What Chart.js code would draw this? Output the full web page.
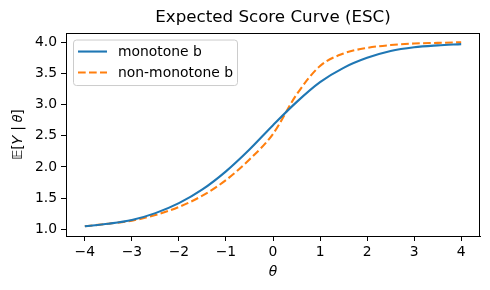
<!DOCTYPE html>
<html>
<head>
<meta charset="utf-8">
<script src="https://cdn.jsdelivr.net/npm/chart.js@4"></script>
<style>
  html, body { margin: 0; padding: 0; background: #fff; }
  #wrap { width: 490px; height: 290px; }
</style>
</head>
<body>
<div id="wrap"><canvas id="esc" width="490" height="290"></canvas></div>
<script>
// theta grid and the two expected-score curves
const thetas = [-4, -3.5, -3, -2.5, -2, -1.5, -1, -0.5, 0, 0.5, 1, 1.5, 2, 2.5, 3, 3.5, 4];
const monotoneB = [1.05, 1.09, 1.15, 1.26, 1.42, 1.64, 1.93, 2.28, 2.67, 3.04, 3.36, 3.59, 3.75, 3.86, 3.92, 3.95, 3.97];
const nonMonotoneB = [1.05, 1.09, 1.14, 1.23, 1.36, 1.54, 1.79, 2.12, 2.53, 3.16, 3.62, 3.82, 3.91, 3.955, 3.98, 3.99, 4.0];
const xTicks = [-4, -3, -2, -1, 0, 1, 2, 3, 4];
const yTicks = [1.0, 1.5, 2.0, 2.5, 3.0, 3.5, 4.0];

const FONT = "'DejaVu Sans', sans-serif";
Chart.defaults.color = "#000";
Chart.defaults.font.family = FONT;

function toPoints(ys) {
  return thetas.map((t, i) => ({ x: t, y: ys[i] }));
}

// full box round the axes, like matplotlib spines
const frame = {
  id: "frame",
  afterDatasetsDraw(chart) {
    const a = chart.chartArea, ctx = chart.ctx;
    ctx.save();
    ctx.strokeStyle = "#000";
    ctx.lineWidth = 1;
    ctx.strokeRect(Math.round(a.left) + 0.5, Math.round(a.top) + 0.5,
                   Math.round(a.right - a.left) - 1, Math.round(a.bottom - a.top));
    ctx.restore();
  }
};

// legend box in the upper-left corner of the plot
const boxLegend = {
  id: "boxLegend",
  afterDraw(chart) {
    const a = chart.chartArea, ctx = chart.ctx;
    const x = a.left + 7, y = a.top + 6.5, w = 164, h = 45.5;
    ctx.save();
    ctx.beginPath();
    ctx.roundRect(x + 0.5, y + 0.5, w, h, 3);
    ctx.fillStyle = "rgba(255,255,255,0.8)";
    ctx.fill();
    ctx.strokeStyle = "#cccccc";
    ctx.lineWidth = 1;
    ctx.stroke();
    ctx.font = "13.9px " + FONT;
    ctx.textBaseline = "middle";
    chart.data.datasets.forEach((ds, i) => {
      const ly = y + 12 + i * 21;
      ctx.beginPath();
      ctx.setLineDash(ds.borderDash || []);
      ctx.strokeStyle = ds.borderColor;
      ctx.lineWidth = ds.borderWidth;
      ctx.moveTo(x + 5, ly);
      ctx.lineTo(x + 34, ly);
      ctx.stroke();
      ctx.setLineDash([]);
      ctx.fillStyle = "#000";
      ctx.fillText(ds.label, x + 45, ly + 1);
    });
    ctx.restore();
  }
};

const minus = v => String(v).replace("-", "\u2212");

new Chart(document.getElementById("esc"), {
  type: "line",
  data: {
    datasets: [
      {
        label: "monotone b",
        data: toPoints(monotoneB),
        borderColor: "#1f77b4",
        borderWidth: 2.1,
        pointRadius: 0,
        cubicInterpolationMode: "monotone",
        fill: false
      },
      {
        label: "non-monotone b",
        data: toPoints(nonMonotoneB),
        borderColor: "#ff7f0e",
        borderWidth: 2.1,
        borderDash: [7.7, 3.3],
        pointRadius: 0,
        cubicInterpolationMode: "monotone",
        fill: false
      }
    ]
  },
  options: {
    responsive: false,
    animation: false,
    layout: { padding: { left: 0, right: 10, top: 0, bottom: 0 } },
    plugins: {
      legend: { display: false },
      tooltip: { enabled: false },
      title: {
        display: true,
        fullSize: false,
        text: "Expected Score Curve (ESC)",
        color: "#000",
        font: { size: 16.7, weight: "normal", family: FONT },
        padding: { top: 8, bottom: 5 }
      }
    },
    scales: {
      x: {
        type: "linear",
        min: -4.4,
        max: 4.4,
        afterBuildTicks: s => { s.ticks = xTicks.map(v => ({ value: v })); },
        afterFit: s => { s.height = 54; },
        ticks: {
          font: { size: 13.9 },
          padding: 3,
          maxRotation: 0,
          callback: v => minus(v)
        },
        grid: { display: true, drawOnChartArea: false, drawTicks: true, tickLength: 5, color: "#000" },
        border: { display: true, color: "#000" },
        title: {
          display: true,
          text: "θ",
          font: { size: 13.9, style: "italic" },
          padding: { top: 0, bottom: 9 }
        }
      },
      y: {
        min: 0.893,
        max: 4.148,
        afterBuildTicks: s => { s.ticks = yTicks.map(v => ({ value: v })); },
        afterFit: s => { s.width = 66; },
        ticks: {
          font: { size: 13.9 },
          padding: 4,
          callback: v => Number(v).toFixed(1)
        },
        grid: { display: true, drawOnChartArea: false, drawTicks: true, tickLength: 5, color: "#000" },
        border: { display: true, color: "#000" },
        title: {
          display: true,
          text: "𝔼[𝑌 | 𝜃]",
          font: { size: 13.9 },
          padding: { top: 10, bottom: 0 }
        }
      }
    }
  },
  plugins: [frame, boxLegend]
});
</script>
</body>
</html>
